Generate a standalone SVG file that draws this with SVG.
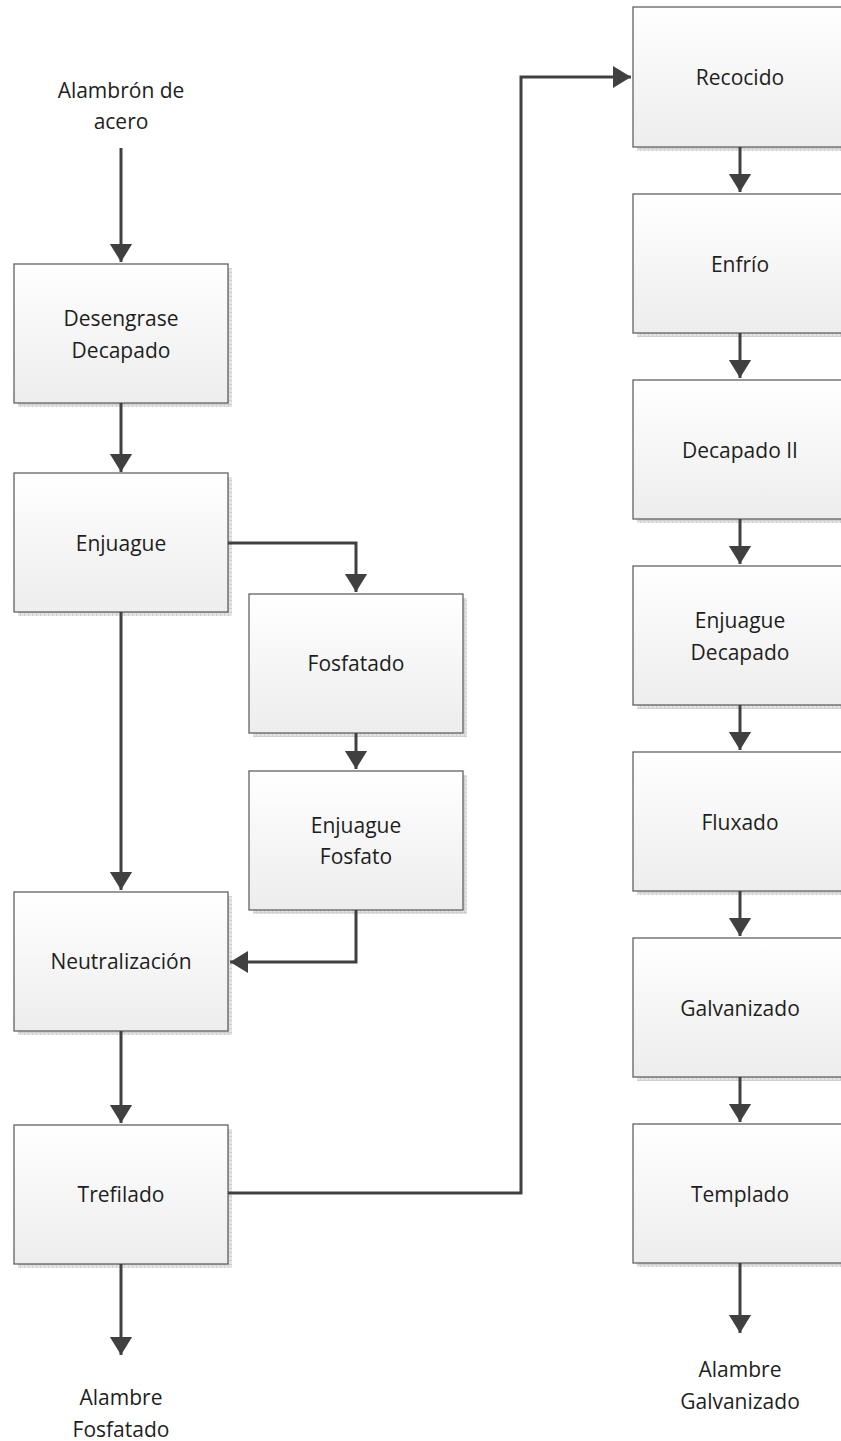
<svg xmlns="http://www.w3.org/2000/svg" width="841" height="1441" viewBox="0 0 841 1441">
<defs>
<linearGradient id="g" x1="0" y1="0" x2="0" y2="1">
<stop offset="0" stop-color="#ffffff"/>
<stop offset="1" stop-color="#ededed"/>
</linearGradient>
<pattern id="sh" width="4" height="4" patternUnits="userSpaceOnUse">
<rect width="4" height="4" fill="#e4e4e4"/>
<path d="M0 0.5H4M0.5 0V4" stroke="#cfcfcf" stroke-width="1"/>
</pattern>
<marker id="ah" markerWidth="8" markerHeight="8" refX="6" refY="4" orient="auto" markerUnits="strokeWidth">
<path d="M0 0.3 L6 4 L0 7.7 Z" fill="#404040"/>
</marker>
<style>
.box rect.b{fill:url(#g);stroke:#555;stroke-width:1.2}
.box rect.s{fill:url(#sh)}
text{font-family:"Open Sans","Liberation Sans",sans-serif;font-size:21px;fill:#1e1e1e;text-anchor:middle;dominant-baseline:central}
.c path{fill:none;stroke:#404040;stroke-width:3;marker-end:url(#ah)}
</style>
</defs>
<g id="n-start"><text x="121" y="90">Alambrón de</text><text x="121" y="121">acero</text></g>
<g id="n-desengrase" class="box"><rect class="s" x="18" y="268" width="214" height="139"/><rect class="b" x="14" y="264" width="214" height="139"/><text x="121" y="318">Desengrase</text><text x="121" y="350">Decapado</text></g>
<g id="n-enjuague" class="box"><rect class="s" x="18" y="477" width="214" height="139"/><rect class="b" x="14" y="473" width="214" height="139"/><text x="121" y="543">Enjuague</text></g>
<g id="n-fosfatado" class="box"><rect class="s" x="253" y="598" width="214" height="139"/><rect class="b" x="249" y="594" width="214" height="139"/><text x="356" y="663">Fosfatado</text></g>
<g id="n-enjfosfato" class="box"><rect class="s" x="253" y="775" width="214" height="139"/><rect class="b" x="249" y="771" width="214" height="139"/><text x="356" y="825">Enjuague</text><text x="356" y="856">Fosfato</text></g>
<g id="n-neutral" class="box"><rect class="s" x="18" y="896" width="214" height="139"/><rect class="b" x="14" y="892" width="214" height="139"/><text x="121" y="961">Neutralización</text></g>
<g id="n-trefilado" class="box"><rect class="s" x="18" y="1129" width="214" height="139"/><rect class="b" x="14" y="1125" width="214" height="139"/><text x="121" y="1194">Trefilado</text></g>
<g id="n-endf"><text x="121" y="1397">Alambre</text><text x="121" y="1429">Fosfatado</text></g>
<g id="n-recocido" class="box"><rect class="s" x="637" y="11" width="214" height="140"/><rect class="b" x="633" y="7" width="214" height="140"/><text x="740" y="77">Recocido</text></g>
<g id="n-enfrio" class="box"><rect class="s" x="637" y="198" width="214" height="139"/><rect class="b" x="633" y="194" width="214" height="139"/><text x="740" y="264">Enfrío</text></g>
<g id="n-decapado2" class="box"><rect class="s" x="637" y="384" width="214" height="139"/><rect class="b" x="633" y="380" width="214" height="139"/><text x="740" y="450">Decapado II</text></g>
<g id="n-enjdecapado" class="box"><rect class="s" x="637" y="570" width="214" height="139"/><rect class="b" x="633" y="566" width="214" height="139"/><text x="740" y="620">Enjuague</text><text x="740" y="652">Decapado</text></g>
<g id="n-fluxado" class="box"><rect class="s" x="637" y="756" width="214" height="139"/><rect class="b" x="633" y="752" width="214" height="139"/><text x="740" y="822">Fluxado</text></g>
<g id="n-galvanizado" class="box"><rect class="s" x="637" y="942" width="214" height="139"/><rect class="b" x="633" y="938" width="214" height="139"/><text x="740" y="1008">Galvanizado</text></g>
<g id="n-templado" class="box"><rect class="s" x="637" y="1128" width="214" height="139"/><rect class="b" x="633" y="1124" width="214" height="139"/><text x="740" y="1194">Templado</text></g>
<g id="n-endg"><text x="740" y="1369">Alambre</text><text x="740" y="1401">Galvanizado</text></g>
<g id="connectors" class="c">
<path d="M121 148V262"/>
<path d="M121 403V472"/>
<path d="M228 543H356V592"/>
<path d="M121 612V890"/>
<path d="M356 733V769"/>
<path d="M356 910V962H230"/>
<path d="M121 1031V1123"/>
<path d="M121 1264V1355"/>
<path d="M228 1193H521V77H631"/>
<path d="M740 147V192"/>
<path d="M740 333V378"/>
<path d="M740 519V564"/>
<path d="M740 705V750"/>
<path d="M740 891V936"/>
<path d="M740 1077V1122"/>
<path d="M740 1263V1333"/>
</g>
</svg>
